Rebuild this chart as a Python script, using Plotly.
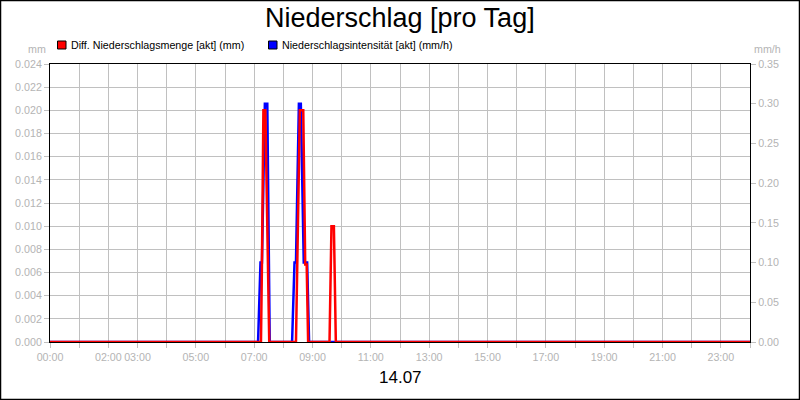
import plotly.graph_objects as go

# Data
day = "2024-07-14 "
intens_times = ["00:00", "07:08", "07:13", "07:16", "07:22", "07:27", "07:32",
                "08:18", "08:23", "08:26", "08:32", "08:36", "08:42", "08:49", "08:53"]
intens_vals = [0, 0, 0.1, 0.1, 0.3, 0.3, 0,
               0, 0.1, 0.1, 0.3, 0.3, 0.1, 0.1, 0]

menge_times = ["00:00", "07:14", "07:16", "07:19", "07:23", "07:31",
               "08:26", "08:34", "08:41", "08:45", "08:48", "08:51",
               "09:35", "09:39", "09:44", "09:48"]
menge_vals = [0, 0, 0.0067, 0.02, 0.02, 0,
              0, 0.02, 0.02, 0.0067, 0.0067, 0,
              0, 0.01, 0.01, 0]

tick_hours = ["00:00", "02:00", "03:00", "05:00", "07:00", "09:00", "11:00",
              "13:00", "15:00", "17:00", "19:00", "21:00", "23:00"]

end_of_day = "2024-07-15 00:00"

GRAY = "#c0c0c0"
TXT = "#b4b4b4"
FONT = "Liberation Sans, Arial, sans-serif"

# plot area in pixels
L, R, T, B = 50, 750, 64, 342


def px(x):
    return (x - L) / (R - L)


def py(y):
    return (B - y) / (B - T)


fig = go.Figure()

# blue on base axis (right side), red on overlay so it sits on top
fig.add_trace(go.Scatter(
    x=[day + t for t in intens_times] + [end_of_day],
    y=intens_vals + [0],
    mode="lines", line=dict(color="#0000ff", width=2.5),
    yaxis="y", showlegend=False))
fig.add_trace(go.Scatter(
    x=[day + t for t in menge_times] + [end_of_day],
    y=menge_vals + [0],
    mode="lines", line=dict(color="#ff0000", width=2.5),
    yaxis="y2", showlegend=False))

fig.update_layout(
    width=800, height=400,
    margin=dict(l=L, r=800 - R, t=T, b=400 - B),
    paper_bgcolor="white", plot_bgcolor="white",
    font=dict(family=FONT, size=10.7, color=TXT),
    xaxis=dict(
        type="date",
        range=[day + "00:00", end_of_day],
        tickvals=[day + h for h in tick_hours],
        ticktext=tick_hours,
        ticks="outside", ticklen=5, tickcolor=GRAY,
        showgrid=True, gridcolor=GRAY, gridwidth=1,
        minor=dict(dtick=3600000, showgrid=True, gridcolor=GRAY,
                   ticks="outside", ticklen=5, tickcolor=GRAY),
        showline=True, linecolor="black", linewidth=1, mirror=True,
        layer="below traces",
    ),
    yaxis=dict(
        side="right", range=[0, 0.35], dtick=0.05, tickformat=".2f",
        ticks="outside", ticklen=5, tickcolor=GRAY,
        showgrid=False, zeroline=False,
        showline=True, linecolor="black", linewidth=1,
        layer="below traces",
    ),
    yaxis2=dict(
        side="left", overlaying="y", range=[0, 0.024], dtick=0.002,
        tickformat=".3f",
        ticks="outside", ticklen=5, tickcolor=GRAY,
        showgrid=True, gridcolor=GRAY, zeroline=False,
        showline=True, linecolor="black", linewidth=1,
        layer="below traces",
    ),
)

shapes = [
    # outer frame
    dict(type="rect", xref="paper", yref="paper",
         x0=px(0.5), x1=px(799.5), y0=py(0.5), y1=py(399.5),
         line=dict(color="black", width=1.5), layer="above"),
    # legend squares
    dict(type="rect", xref="paper", yref="paper",
         x0=px(57.5), x1=px(66), y0=py(41), y1=py(49),
         fillcolor="#ff0000", line=dict(color="black", width=1)),
    dict(type="rect", xref="paper", yref="paper",
         x0=px(268.5), x1=px(277), y0=py(41), y1=py(49),
         fillcolor="#0000ff", line=dict(color="black", width=1)),
]
fig.update_layout(shapes=shapes)

annotations = [
    dict(text="Niederschlag [pro Tag]", x=px(400), y=py(18),
         font=dict(size=27, color="black")),
    dict(text="14.07", x=px(400.5), y=py(377),
         font=dict(size=17, color="black")),
    dict(text="Diff. Niederschlagsmenge [akt] (mm)", x=px(68.5), y=py(45),
         xanchor="left", font=dict(size=10.7, color="black")),
    dict(text="Niederschlagsintensität [akt] (mm/h)", x=px(279.5), y=py(45),
         xanchor="left", font=dict(size=10.7, color="black")),
    dict(text="mm", x=px(48), y=py(49), xanchor="right"),
    dict(text="mm/h", x=px(752), y=py(49), xanchor="left"),
]
for a in annotations:
    a.setdefault("xanchor", "center")
    fig.add_annotation(xref="paper", yref="paper", showarrow=False,
                       yanchor="middle", **a)

# page body has a default margin; drop it so the chart fills the window
fig.write_html("out.html", config={"displayModeBar": False},
               post_script="document.body.style.margin='0';")
